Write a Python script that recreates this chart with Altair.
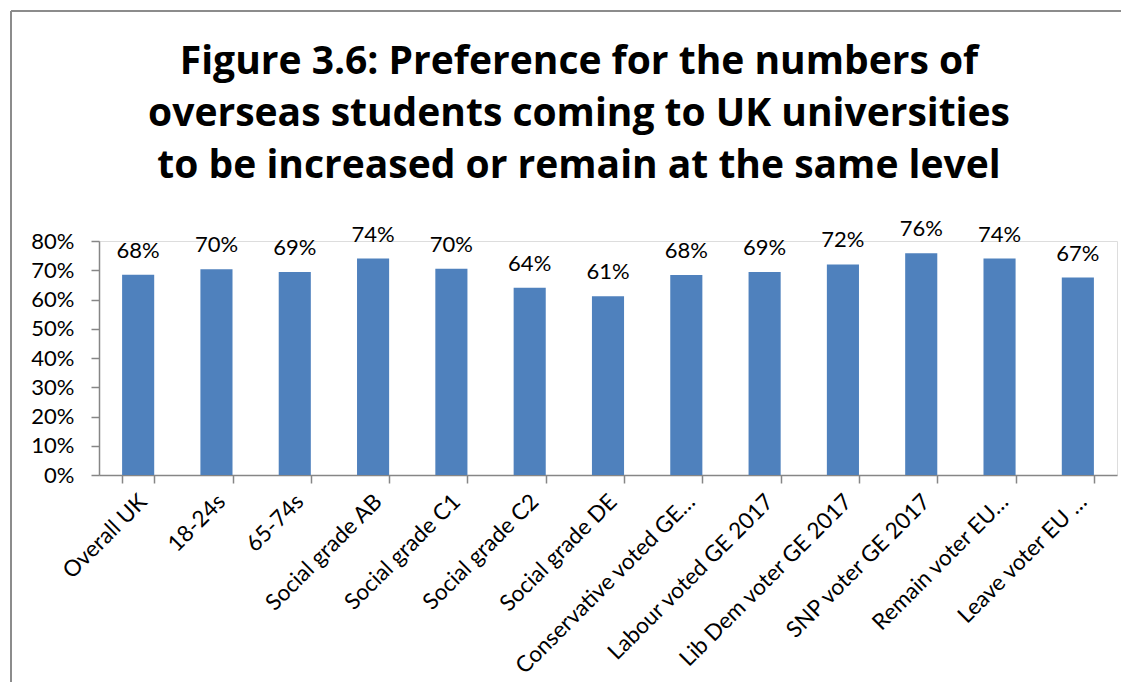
import altair as alt
import pandas as pd

categories = ["Overall UK", "18-24s", "65-74s", "Social grade AB", "Social grade C1",
              "Social grade C2", "Social grade DE", "Conservative voted GE…",
              "Labour voted GE 2017", "Lib Dem voter GE 2017", "SNP voter GE 2017",
              "Remain voter EU…", "Leave voter EU …"]
values = [68.5, 70.3, 69.4, 74.0, 70.5, 64.0, 61.1, 68.4, 69.4, 72.0, 75.8, 74.0, 67.5]
labels = ["68%", "70%", "69%", "74%", "70%", "64%", "61%", "68%", "69%", "72%", "76%", "74%", "67%"]
y_ticks = [0, 0.1, 0.2, 0.3, 0.4, 0.5, 0.6, 0.7, 0.8]
title_lines = ["Figure 3.6: Preference for the numbers of",
               "overseas students coming to UK universities",
               "to be increased or remain at the same level"]

df = pd.DataFrame({"cat": categories, "val": [v / 100 for v in values], "lab": labels})

FONT = "Lato"
W, H = 1018, 234
AXC = "#868686"

x = alt.X("cat:N", sort=categories, title=None,
          scale=alt.Scale(paddingInner=0.59, paddingOuter=0.295),
          axis=alt.Axis(labelAngle=-45, labelFont=FONT, labelFontSize=22.5, labelColor="black",
                        labelPadding=7, labelOffset=-3, tickBand="extent", tickSize=8,
                        tickColor=AXC, domainColor=AXC, domainWidth=1.5, tickWidth=1.5,
                        labelLimit=400, labelOverlap=False))
y = alt.Y("val:Q", title=None,
          scale=alt.Scale(domain=[0, 0.8], nice=False),
          axis=alt.Axis(format=".0%", values=y_ticks, labelFont=FONT,
                        labelFontSize=22, labelColor="black", tickSize=8, tickColor=AXC,
                        domainColor=AXC, domainWidth=1.5, tickWidth=1.5,
                        labelPadding=17, grid=False, labelOverlap=False))

bars = alt.Chart(df).mark_bar(color="#4F81BD").encode(x=x, y=y)
text = alt.Chart(df).mark_text(font=FONT, fontSize=22, color="black", dy=-17,
                               baseline="alphabetic").encode(x=x, y=y, text="lab:N")

left_edge = alt.Chart(df).mark_rule(color="#8c8c8c", strokeWidth=2).encode(
    x=alt.value(-88), y=alt.value(-230), y2=alt.value(800))
top_edge = alt.Chart(df).mark_rule(color="#8c8c8c", strokeWidth=2).encode(
    x=alt.value(-88), x2=alt.value(2000), y=alt.value(-230))

chart = alt.layer(left_edge, top_edge, bars, text).properties(
    width=W, height=H,
    title=alt.TitleParams(title_lines, font="Open Sans", fontSize=39, fontWeight="bold",
                          color="black", anchor="middle", dx=-29, offset=20, lineHeight=52,
                          dy=196),
    autosize=alt.AutoSizeParams(type="none"),
    padding={"left": 91, "top": 233, "right": 4, "bottom": 207},
).configure_view(stroke=None).configure(background="white")

chart.save("out.html", embed_options={"renderer": "svg", "actions": False})
